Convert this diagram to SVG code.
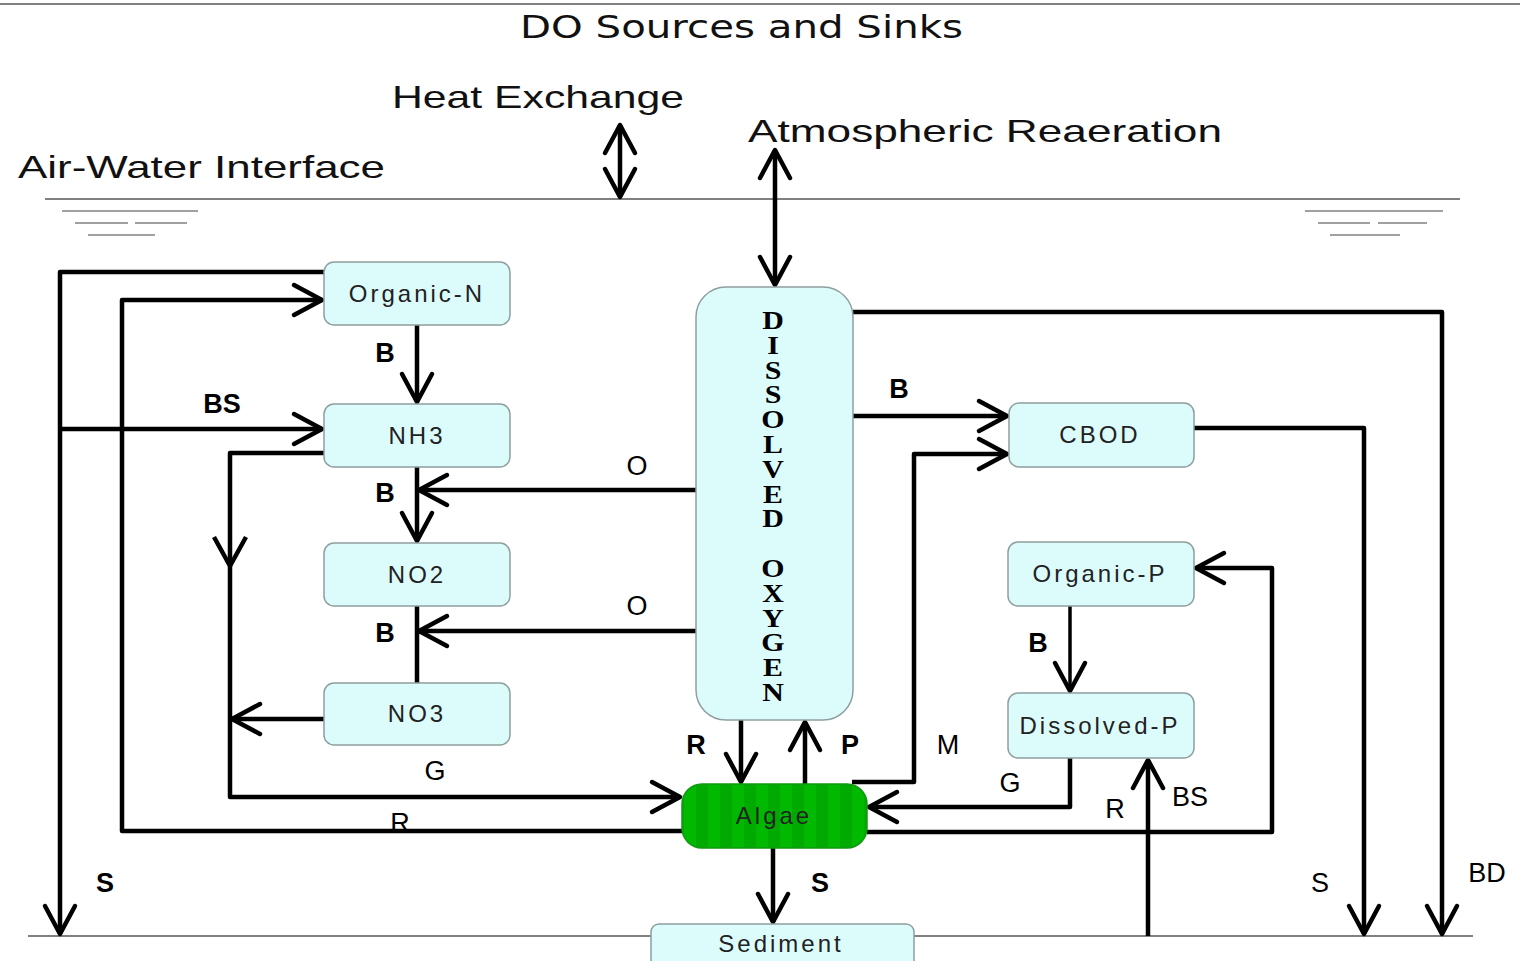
<svg xmlns="http://www.w3.org/2000/svg" width="1520" height="961" viewBox="0 0 1520 961">
<defs>
<style>
.node{fill:#dcfcfc;stroke:#8f9f9f;stroke-width:1.5}
.nt{font-family:"Liberation Sans",Arial,sans-serif;font-size:24px;fill:#222;text-anchor:middle;letter-spacing:3px}
.c{fill:none;stroke:#000;stroke-width:4.5;stroke-linejoin:round}
.c3{fill:none;stroke:#000;stroke-width:3.5;stroke-linejoin:round}
.lb{font-family:"Liberation Sans",Arial,sans-serif;font-size:27px;fill:#000;text-anchor:middle;font-weight:bold}
.lr{font-family:"Liberation Sans",Arial,sans-serif;font-size:27px;fill:#000;text-anchor:middle}
.big{font-family:"Liberation Sans",Arial,sans-serif;font-size:32px;fill:#111}
.gl{stroke:#808080;stroke-width:2}
.wl{stroke:#a0a0a0;stroke-width:2}
.do{font-family:"Liberation Serif","Times New Roman",serif;font-weight:bold;font-size:26px;letter-spacing:-4px;fill:#000;writing-mode:vertical-rl;text-orientation:upright}
</style>
<marker id="a" viewBox="-32 -18 36 36" refX="0" refY="0" markerWidth="36" markerHeight="36" markerUnits="userSpaceOnUse" orient="auto-start-reverse" overflow="visible">
<path d="M-28,-15 L0,0 L-28,15" fill="none" stroke="#000" stroke-width="4.5" stroke-linejoin="round" stroke-linecap="round"/>
</marker>
<pattern id="stripe" width="24" height="80" patternUnits="userSpaceOnUse">
<rect width="24" height="80" fill="#00aa00"/>
<rect x="12" width="12" height="80" fill="#00b900"/>
</pattern>
</defs>

<g id="frame">
<line class="gl" x1="0" y1="4" x2="1520" y2="4"/>
<line class="gl" x1="45" y1="199" x2="1460" y2="199"/>
<line class="gl" x1="28" y1="936" x2="1473" y2="936"/>
<line class="wl" x1="62" y1="211" x2="198" y2="211"/>
<line class="wl" x1="75" y1="223" x2="128" y2="223"/>
<line class="wl" x1="135" y1="223" x2="187" y2="223"/>
<line class="wl" x1="88" y1="235" x2="155" y2="235"/>
<line class="wl" x1="1305" y1="211" x2="1443" y2="211"/>
<line class="wl" x1="1318" y1="223" x2="1370" y2="223"/>
<line class="wl" x1="1378" y1="223" x2="1427" y2="223"/>
<line class="wl" x1="1330" y1="235" x2="1400" y2="235"/>
</g>

<g id="titles">
<text x="520" y="38" font-family="'DejaVu Sans',sans-serif" font-size="32" fill="#111" textLength="443" lengthAdjust="spacingAndGlyphs">DO Sources and Sinks</text>
<text class="big" x="392" y="108" textLength="292" lengthAdjust="spacingAndGlyphs">Heat Exchange</text>
<text class="big" x="748" y="142" textLength="474" lengthAdjust="spacingAndGlyphs">Atmospheric Reaeration</text>
<text class="big" x="18" y="178" textLength="367" lengthAdjust="spacingAndGlyphs">Air-Water Interface</text>
</g>

<g id="connectors">
<path class="c" d="M620,125 V197" marker-start="url(#a)" marker-end="url(#a)"/>
<path class="c" d="M775,150 V285" marker-start="url(#a)" marker-end="url(#a)"/>
<path class="c" d="M324,272 H60 V934" marker-end="url(#a)"/>
<path class="c" d="M60,429 H322" marker-end="url(#a)"/>
<path class="c" d="M682,831 H122 V300 H322" marker-end="url(#a)"/>
<path class="c" d="M324,453 H230 V797 H680" marker-end="url(#a)"/>
<path class="c" d="M214,537 L230,566 L246,537"/>
<path class="c" d="M324,719 H232" marker-end="url(#a)"/>
<path class="c" d="M417,325 V402" marker-end="url(#a)"/>
<path class="c" d="M417,467 V541" marker-end="url(#a)"/>
<path class="c" d="M696,490 H419" marker-end="url(#a)"/>
<path class="c" d="M417,606 V683"/>
<path class="c" d="M696,631 H419" marker-end="url(#a)"/>
<path class="c" d="M853,312 H1442 V934" marker-end="url(#a)"/>
<path class="c" d="M853,416 H1007" marker-end="url(#a)"/>
<path class="c" d="M852,782 H914 V454 H1007" marker-end="url(#a)"/>
<path class="c" d="M1194,428 H1364 V934" marker-end="url(#a)"/>
<path class="c3" d="M1070,606 V691" marker-end="url(#a)"/>
<path class="c" d="M1070,758 V807 H869" marker-end="url(#a)"/>
<path class="c" d="M867,832 H1272 V568 H1196" marker-end="url(#a)"/>
<path class="c" d="M1148,936 V760" marker-end="url(#a)"/>
<path class="c" d="M741,720 V782" marker-end="url(#a)"/>
<path class="c" d="M805,784 V722" marker-end="url(#a)"/>
<path class="c" d="M773,848 V922" marker-end="url(#a)"/>
</g>

<g id="labels">
<text class="lb" x="385" y="362">B</text>
<text class="lb" x="222" y="413">BS</text>
<text class="lb" x="385" y="502">B</text>
<text class="lr" x="637" y="475">O</text>
<text class="lb" x="385" y="642">B</text>
<text class="lr" x="637" y="615">O</text>
<text class="lr" x="435" y="780">G</text>
<text class="lr" x="400" y="832">R</text>
<text class="lb" x="105" y="892">S</text>
<text class="lb" x="696" y="754">R</text>
<text class="lb" x="850" y="754">P</text>
<text class="lr" x="948" y="754">M</text>
<text class="lb" x="899" y="398">B</text>
<text class="lb" x="1038" y="652">B</text>
<text class="lr" x="1010" y="792">G</text>
<text class="lr" x="1115" y="818">R</text>
<text class="lr" x="1190" y="806">BS</text>
<text class="lb" x="820" y="892">S</text>
<text class="lr" x="1320" y="892">S</text>
<text class="lr" x="1487" y="882">BD</text>
</g>

<g id="organic-n"><rect class="node" x="324" y="262" width="186" height="63" rx="10"/><text class="nt" x="417" y="302">Organic-N</text></g>
<g id="nh3"><rect class="node" x="324" y="404" width="186" height="63" rx="10"/><text class="nt" x="417" y="444">NH3</text></g>
<g id="no2"><rect class="node" x="324" y="543" width="186" height="63" rx="10"/><text class="nt" x="417" y="583">NO2</text></g>
<g id="no3"><rect class="node" x="324" y="683" width="186" height="62" rx="10"/><text class="nt" x="417" y="722">NO3</text></g>
<g id="cbod"><rect class="node" x="1009" y="403" width="185" height="64" rx="10"/><text class="nt" x="1100" y="443">CBOD</text></g>
<g id="organic-p"><rect class="node" x="1008" y="542" width="186" height="64" rx="10"/><text class="nt" x="1100" y="582">Organic-P</text></g>
<g id="dissolved-p"><rect class="node" x="1008" y="693" width="186" height="65" rx="10"/><text class="nt" x="1100" y="734" letter-spacing="1.5">Dissolved-P</text></g>
<g id="algae"><rect x="682" y="784" width="185" height="64" rx="20" fill="url(#stripe)" stroke="#119911" stroke-width="1.5"/><text class="nt" x="774" y="824" fill="#111">Algae</text></g>
<g id="sediment"><rect class="node" x="651" y="924" width="263" height="60" rx="8"/><text class="nt" x="781" y="952">Sediment</text></g>
<g id="dissolved-oxygen"><rect class="node" x="696" y="287" width="157" height="433" rx="30"/>
<g transform="translate(773,0) scale(1.15,1) translate(-773,0)">
<text class="do" x="773" y="306">DISSOLVED</text>
<text class="do" x="773" y="554">OXYGEN</text>
</g>
</g>
</svg>
